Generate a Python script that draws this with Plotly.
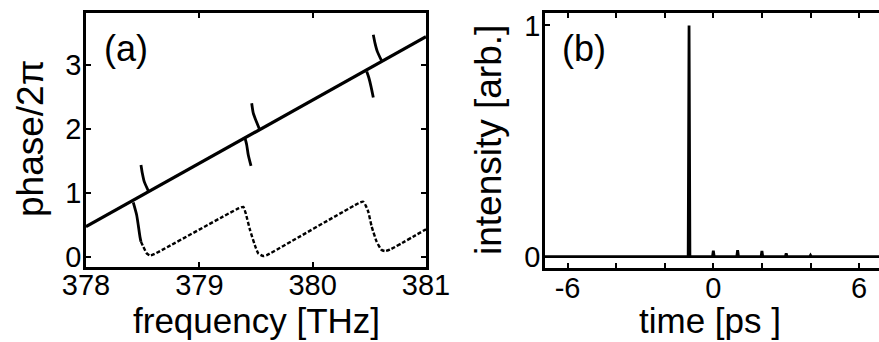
import plotly.graph_objects as go

# ---------------- data ----------------
# panel (a): unwrapped phase (straight solid line)
freq_line = [378.0, 381.0]
phase_line = [0.47, 3.44]

# solid hooks joining the line from above (one per transition)
upper_hook_x = [378.485, 378.497, 378.514, 378.55, None,
                379.462, 379.476, 379.497, 379.529, None,
                380.535, 380.55, 380.57, 380.609]
upper_hook_y = [1.435, 1.305, 1.174, 1.03, None,
                2.40, 2.244, 2.14, 2.0, None,
                3.47, 3.34, 3.21, 3.06]

# solid hooks leaving the line downwards
lower_hook_x = [378.417, 378.447, 378.461, 378.476, 378.485, None,
                379.403, 379.418, 379.432, 379.456, None,
                380.477, 380.497, 380.515, 380.535]
lower_hook_y = [0.85, 0.653, 0.496, 0.313, 0.235, None,
                1.853, 1.748, 1.59, 1.42, None,
                2.895, 2.79, 2.66, 2.49]

# wrapped phase (dotted curve)
wrapped_x = [378.485, 378.506, 378.536, 378.565, 378.60,
             379.35, 379.388, 379.409, 379.447, 379.49, 379.52, 379.565, 379.60,
             380.42, 380.447, 380.468, 380.491, 380.521, 380.565, 380.609, 380.638, 380.68,
             381.0]
wrapped_y = [0.235, 0.156, 0.053, 0.02, 0.04,
             0.76, 0.78, 0.68, 0.42, 0.18, 0.053, 0.011, 0.03,
             0.85, 0.86, 0.80, 0.70, 0.47, 0.235, 0.105, 0.089, 0.11,
             0.43]

# panel (b): pulse train
pulse_t = [-1.0, 0.0, 1.0, 2.0, 3.0, 4.0]
pulse_h = [1.0, 0.026, 0.028, 0.025, 0.014, 0.006]
time_range = [-6.93, 6.93]

freq_ticks = [378, 379, 380, 381]
phase_ticks = [0, 1, 2, 3]
time_ticks = [-6, -4, -2, 0, 2, 4, 6]
time_ticktext = ["-6", "", "", "0", "", "", "6"]
int_ticks = [0, 1]

# ---------------- build pulse trace ----------------
hw = 0.035
tx, ty = [time_range[0]], [0.0]
for t, h in zip(pulse_t, pulse_h):
    tx += [t - hw, t, t + hw]
    ty += [0.0, h, 0.0]
tx.append(time_range[1])
ty.append(0.0)

FONT = "Liberation Sans, Arial, Helvetica, sans-serif"
W, H = 879, 342

fig = go.Figure()
fig.add_trace(go.Scatter(x=freq_line, y=phase_line, mode="lines",
                         line=dict(color="black", width=3.2),
                         xaxis="x", yaxis="y", showlegend=False))
fig.add_trace(go.Scatter(x=upper_hook_x, y=upper_hook_y, mode="lines",
                         line=dict(color="black", width=2.8, shape="spline", smoothing=0.6),
                         xaxis="x", yaxis="y", showlegend=False))
fig.add_trace(go.Scatter(x=lower_hook_x, y=lower_hook_y, mode="lines",
                         line=dict(color="black", width=2.8, shape="spline", smoothing=0.6),
                         xaxis="x", yaxis="y", showlegend=False))
fig.add_trace(go.Scatter(x=wrapped_x, y=wrapped_y, mode="lines",
                         line=dict(color="black", width=2.4, dash="4px,2px",
                                   shape="spline", smoothing=0.5),
                         xaxis="x", yaxis="y", showlegend=False))
fig.add_trace(go.Scatter(x=tx, y=ty, mode="lines",
                         line=dict(color="black", width=2.8),
                         xaxis="x2", yaxis="y2", showlegend=False))

def px_x(p):
    return p / W

def px_y(p):
    return 1 - p / H

axis_common = dict(showgrid=False, zeroline=False, showline=True, linecolor="black",
                   linewidth=2.6, ticks="inside", ticklen=5, tickwidth=2,
                   tickcolor="black", tickfont=dict(family=FONT, size=29, color="black"))

fig.update_layout(
    width=W, height=H, margin=dict(l=0, r=0, t=0, b=0, autoexpand=False),
    paper_bgcolor="white", plot_bgcolor="white",
    xaxis=dict(domain=[px_x(86), px_x(426)], range=[378, 381], tickvals=freq_ticks,
               anchor="y", mirror="ticks", ticklabelstandoff=-10, automargin=False,
               **axis_common),
    yaxis=dict(domain=[px_y(267), px_y(13)], range=[-0.16, 3.81], tickvals=phase_ticks,
               anchor="x", mirror="ticks", ticklabelstandoff=-4, automargin=False,
               **axis_common),
    xaxis2=dict(domain=[px_x(545), 1.0], range=[time_range[0], 6.82], tickvals=time_ticks,
                ticktext=time_ticktext, anchor="y2", mirror="ticks", ticklabelstandoff=-8,
                automargin=False, **axis_common),
    yaxis2=dict(domain=[px_y(268), px_y(13)], range=[-0.049, 1.054], tickvals=int_ticks,
                anchor="x2", mirror=False, ticklabelstandoff=-4, automargin=False,
                **axis_common),
)

ann = [
    dict(text="frequency [THz]", x=px_x(256), y=px_y(320), size=35, angle=0),
    dict(text="time [ps ]", x=px_x(710), y=px_y(320), size=35, angle=0),
    dict(text="phase/2\u03c0", x=px_x(30), y=px_y(139), size=37, angle=-90),
    dict(text="intensity [arb.]", x=px_x(488), y=px_y(140), size=37, angle=-90),
    dict(text="(a)", x=px_x(126), y=px_y(49), size=36, angle=0),
    dict(text="(b)", x=px_x(584), y=px_y(49), size=36, angle=0),
]
for a in ann:
    fig.add_annotation(text=a["text"], x=a["x"], y=a["y"], xref="paper", yref="paper",
                       xanchor="center", yanchor="middle", showarrow=False,
                       textangle=a["angle"],
                       font=dict(family=FONT, size=a["size"], color="black"))

fig.write_html("out.html")
